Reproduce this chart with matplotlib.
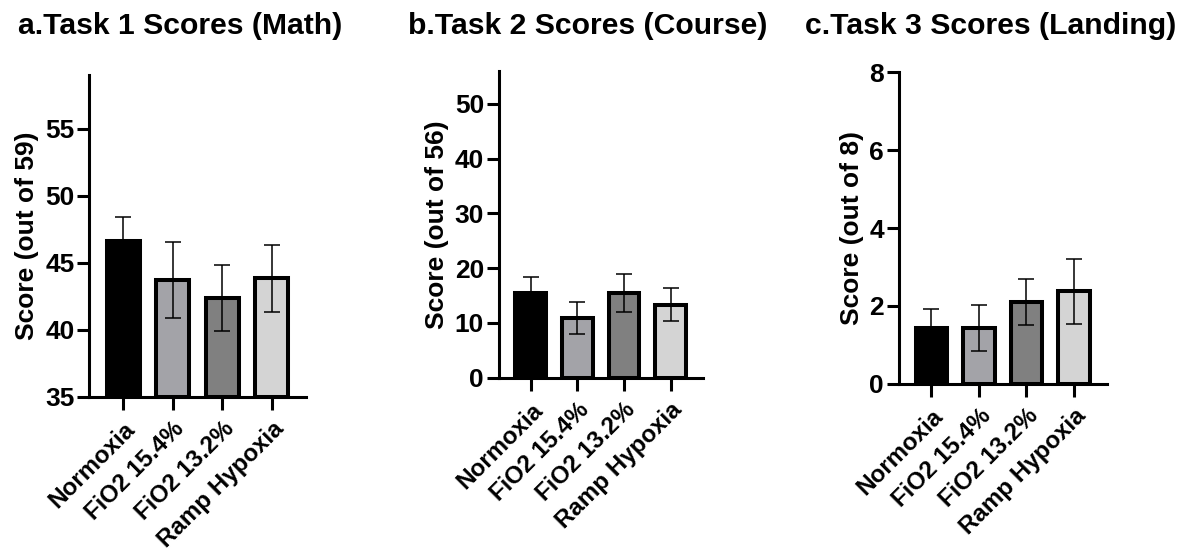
import matplotlib
matplotlib.use('Agg')
import matplotlib.pyplot as plt

# 字体：类似 Arial 的粗体
plt.rcParams['font.family'] = ['Liberation Sans', 'DejaVu Sans']
plt.rcParams['font.weight'] = 'bold'

groups = ['Normoxia', 'FiO2 15.4%', 'FiO2 13.2%', 'Ramp Hypoxia']
bar_colors = ['#000000', '#a3a3a8', '#808080', '#d4d4d4']

# 任务1 数学
math_mean = [46.6, 43.7, 42.35, 43.85]
math_err = [1.8, 2.85, 2.45, 2.5]
# 任务2 航线
course_mean = [15.4, 10.9, 15.5, 13.3]
course_err = [3.0, 2.85, 3.5, 3.0]
# 任务3 着陆
landing_mean = [1.43, 1.43, 2.1, 2.37]
landing_err = [0.48, 0.6, 0.6, 0.83]

titles = ['a.Task 1 Scores (Math)', 'b.Task 2 Scores (Course)', 'c.Task 3 Scores (Landing)']
ylabels = ['Score (out of 59)', 'Score (out of 56)', 'Score (out of 8)']
ylims = [(35, 59), (0, 56), (0, 8)]
yticks = [[35, 40, 45, 50, 55], [0, 10, 20, 30, 40, 50], [0, 2, 4, 6, 8]]

W, H = 1183, 552
fig = plt.figure(figsize=(W / 100, H / 100), dpi=100)

# 每个子图的像素位置 (left, top, right, bottom)
boxes = [(89, 75, 306, 396.7), (498.7, 71, 702.7, 377.7), (898.7, 72.3, 1106.7, 383.7)]
title_x = [18, 408, 805]

data = [(math_mean, math_err), (course_mean, course_err), (landing_mean, landing_err)]

for i, (means, errs) in enumerate(data):
    l, t, r, b = boxes[i]
    ax = fig.add_axes([l / W, 1 - b / H, (r - l) / W, (b - t) / H])
    x = range(len(groups))
    ax.bar(x, [m - ylims[i][0] for m in means], bottom=ylims[i][0], width=0.66,
           color=bar_colors, edgecolor='black', linewidth=2.9, zorder=2)
    ax.errorbar(x, means, yerr=errs, fmt='none', ecolor='black',
                elinewidth=1.1, capsize=5.8, capthick=1.1, zorder=3)
    ax.set_xlim(-0.69, 3.69)
    ax.set_ylim(*ylims[i])
    ax.set_yticks(yticks[i])
    ax.set_xticks(list(x))
    ax.set_xticklabels(groups, rotation=45, ha='right', rotation_mode='anchor',
                       fontsize=17.4, fontweight='bold')
    ax.tick_params(axis='y', labelsize=19, width=2.2, length=8.5, pad=2)
    ax.tick_params(axis='x', width=2.2, length=9, pad=6)
    for lab in ax.get_yticklabels():
        lab.set_fontweight('bold')
    ax.set_ylabel(ylabels[i], fontsize=19, fontweight='bold', labelpad=4)
    for s in ['top', 'right']:
        ax.spines[s].set_visible(False)
    for s in ['left', 'bottom']:
        ax.spines[s].set_linewidth(2.2)
        ax.spines[s].set_zorder(4)
    fig.text(title_x[i] / W, 1 - 34 / H, titles[i], fontsize=21.7,
             fontweight='bold', ha='left', va='baseline')

fig.savefig('out.png', dpi=100)
